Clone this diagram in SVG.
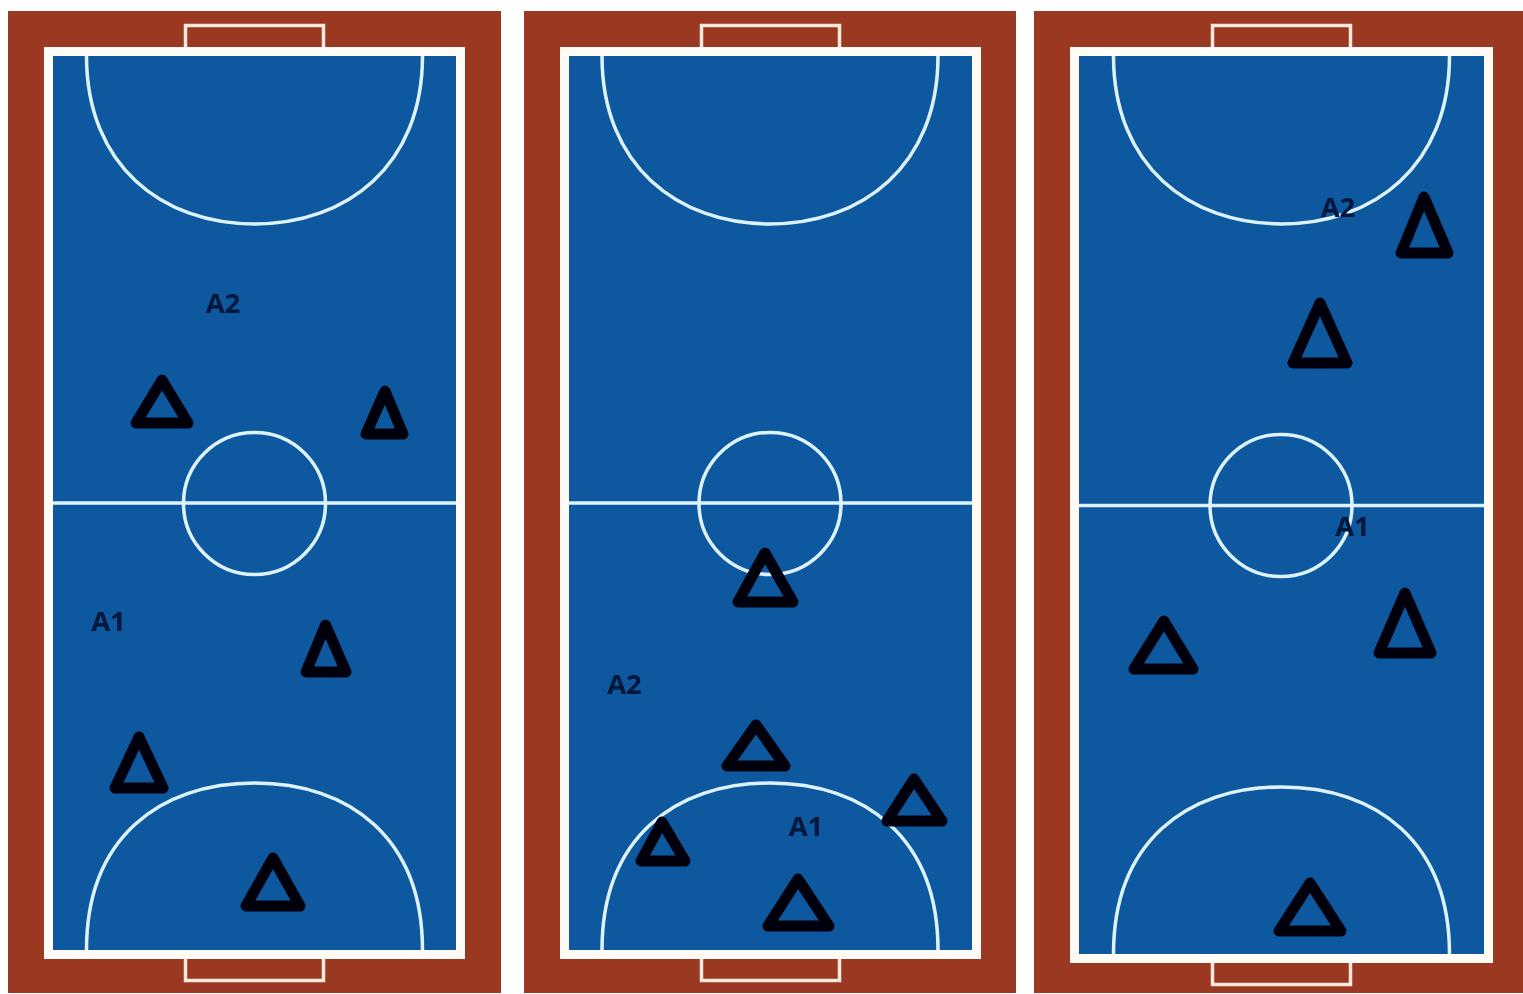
<svg xmlns="http://www.w3.org/2000/svg" width="1523" height="994" viewBox="0 0 1523 994">
<style>
.ground{fill:#9a3822}
.floor{fill:#09599f;stroke:#fffcf8;stroke-width:9}
.goal{fill:none;stroke:#fbe8dc;stroke-width:3.500}
.line{fill:none;stroke:#dff2ff;stroke-width:3.500}
.cone{fill:none;stroke:#02060f;stroke-width:11;stroke-linejoin:round}
.lab{font-family:"Open Sans",sans-serif;font-weight:700;font-size:27.500px;fill:#04163c;text-anchor:middle}
</style>
<defs>
<filter id="soft" filterUnits="userSpaceOnUse" x="0" y="0" width="1523" height="994"><feGaussianBlur stdDeviation="0.5"/></filter>
<path id="arc-top" class="line" d="M-168 0C-168 110 -92 168 0 168C92 168 168 110 168 0"/>
<path id="arc-bottom" class="line" d="M-168 0C-168 -112 -95 -167 0 -167C95 -167 168 -112 168 0"/>
</defs>
<rect width="1523" height="994" fill="#fff"/>
<g filter="url(#soft)">
<g id="court-1">
<rect class="ground" x="8" y="11" width="493" height="982"/>
<path class="goal" d="M185.500 47V25.500H323.500V47M185.500 959V980.500H323.500V959"/>
<rect class="floor" x="48.500" y="51.500" width="412" height="903"/>
<use href="#arc-top" x="254.500" y="56"/>
<use href="#arc-bottom" x="254.500" y="950"/>
<path class="line" d="M53 503H456"/>
<circle class="line" cx="254.500" cy="503.500" r="71"/>
<polygon id="c1-cone1" class="cone" points="162,380 136,423 188,423"/>
<polygon id="c1-cone2" class="cone" points="385,391 366,434 403,434"/>
<polygon id="c1-cone3" class="cone" points="325.500,625 306,672 346,672"/>
<polygon id="c1-cone4" class="cone" points="139,737 115,788 163,788"/>
<polygon id="c1-cone5" class="cone" points="273,858 246,906 300,906"/>
<text class="lab" x="223" y="313">A2</text>
<text class="lab" x="108.500" y="631">A1</text>
</g>
<g id="court-2">
<rect class="ground" x="524" y="11" width="492" height="982"/>
<path class="goal" d="M701.500 47V25.500H839.500V47M701.500 959V980.500H839.500V959"/>
<rect class="floor" x="564.500" y="51.500" width="412" height="903"/>
<use href="#arc-top" x="770" y="56"/>
<use href="#arc-bottom" x="770" y="950"/>
<path class="line" d="M569 503H972"/>
<circle class="line" cx="770" cy="503.500" r="71"/>
<polygon id="c2-cone1" class="cone" points="765,553 738,602 793,602"/>
<polygon id="c2-cone2" class="cone" points="756,725 727,766 785,766"/>
<polygon id="c2-cone3" class="cone" points="914,779 887,821 942,821"/>
<polygon id="c2-cone4" class="cone" points="662,822 641,861 685,861"/>
<polygon id="c2-cone5" class="cone" points="798,879 768,926 829,926"/>
<text class="lab" x="624.500" y="694">A2</text>
<text class="lab" x="806" y="836">A1</text>
</g>
<g id="court-3">
<rect class="ground" x="1034" y="11" width="489" height="982"/>
<path class="goal" d="M1212.500 47V25.500H1350.500V47M1212.500 963V984.500H1350.500V963"/>
<rect class="floor" x="1074.500" y="51.500" width="414" height="907"/>
<use href="#arc-top" x="1281.500" y="56"/>
<use href="#arc-bottom" x="1281.500" y="954"/>
<path class="line" d="M1079 505.500H1484"/>
<circle class="line" cx="1281" cy="505.500" r="71"/>
<polygon id="c3-cone1" class="cone" points="1424,197 1401,253 1448,253"/>
<polygon id="c3-cone2" class="cone" points="1320,303 1293,363 1347,363"/>
<polygon id="c3-cone3" class="cone" points="1164,621 1134,669 1193,669"/>
<polygon id="c3-cone4" class="cone" points="1405,593 1379,653 1431,653"/>
<polygon id="c3-cone5" class="cone" points="1310,883 1279,931 1341,931"/>
<text class="lab" x="1338" y="217">A2</text>
<text class="lab" x="1352.500" y="536">A1</text>
</g>
</g>
</svg>
